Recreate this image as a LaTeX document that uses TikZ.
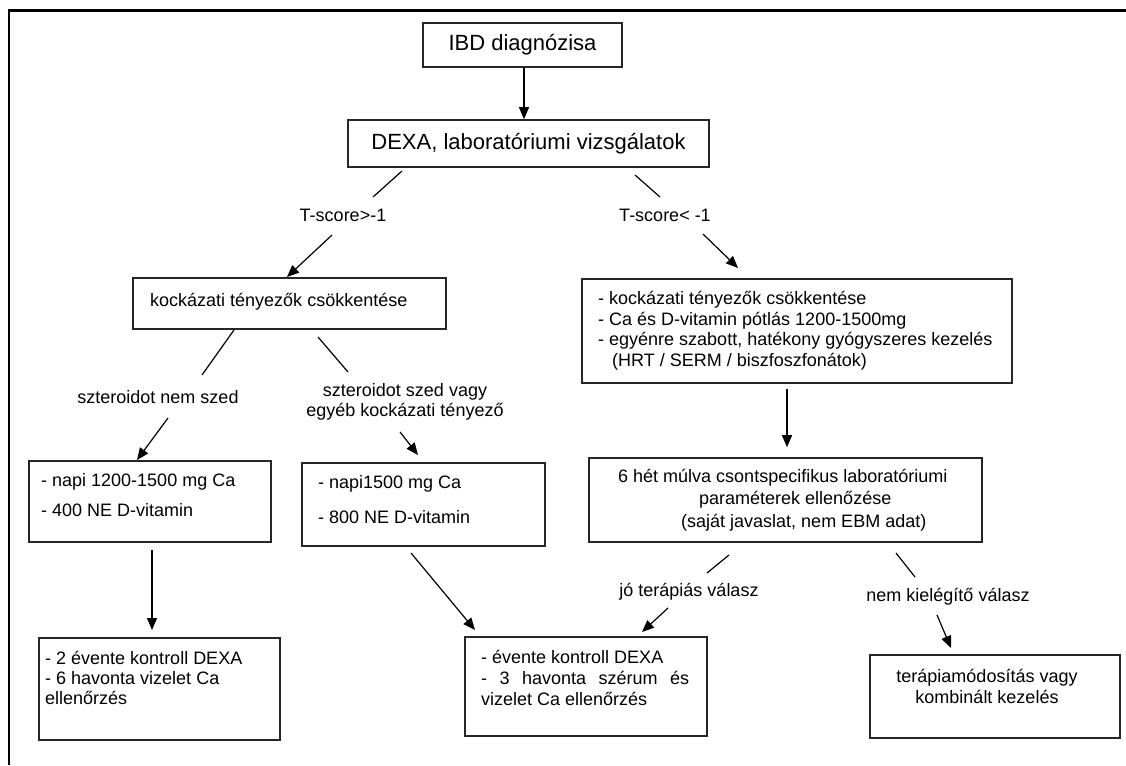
\documentclass[tikz,border=0pt]{standalone}
\usepackage{fontspec}
\setmainfont{Liberation Sans}
\usetikzlibrary{arrows.meta}
\begin{document}
\begin{tikzpicture}[x=1pt,y=-1pt,
  box/.style={draw=black!85,line width=1.6pt,inner sep=0pt},
  big/.style={font=\fontsize{22}{26}\selectfont},
  txt/.style={inner sep=0pt,font=\fontsize{18}{20.5}\selectfont,align=left},
  lbl/.style={inner sep=0pt,font=\fontsize{18}{20.5}\selectfont,align=center},
  conn/.style={line width=1.2pt},
  arr/.style={line width=1.2pt,-{Triangle[length=12pt,width=10pt]}}]
\useasboundingbox (0,0) rectangle (1126,765);
% frame
\draw[line width=3pt] (1126,10.5) -- (8.5,10.5);
\draw[line width=2pt] (8.5,9) -- (8.5,765);
% boxes
\node[box,big,minimum width=199,minimum height=44] (ibd) at (522.5,45) {IBD diagnózisa};
\node[box,big,minimum width=361,minimum height=47] (dexa) at (528.5,143.5) {DEXA, laboratóriumi vizsgálatok};
\node[box,minimum width=313,minimum height=51] (kockL) at (289.5,303.5) {};
\node[box,minimum width=430,minimum height=104] (kockR) at (797,331) {};
\node[box,minimum width=242,minimum height=81] (napiL) at (150,501.5) {};
\node[box,minimum width=243,minimum height=83] (napiM) at (423.5,504.5) {};
\node[box,minimum width=393,minimum height=84] (het) at (785.5,500) {};
\node[box,minimum width=241,minimum height=102] (evL) at (159.5,689) {};
\node[box,minimum width=242,minimum height=99] (evM) at (586,686.5) {};
\node[box,minimum width=250,minimum height=83] (ter) at (995,696.5) {};
% texts in boxes (base anchor = baseline of last line)
\node[txt,anchor=base west] (tkockL) at (150,306) {kockázati tényezők csökkentése};
\node[txt,anchor=base west] (tkockR) at (598,366) {- kockázati tényezők csökkentése\\- Ca és D-vitamin pótlás 1200-1500mg\\- egyénre szabott, hatékony gyógyszeres kezelés\\\hspace{14pt}(HRT / SERM / biszfoszfonátok)};
\node[txt,anchor=base west,font=\fontsize{18}{30}\selectfont] (tnapiL) at (41,516) {- napi 1200-1500 mg Ca\\- 400 NE D-vitamin};
\node[txt,anchor=base west,font=\fontsize{18}{35}\selectfont] (tnapiM) at (318,523) {- napi1500 mg Ca\\- 800 NE D-vitamin};
\node[txt,anchor=base west,font=\fontsize{18}{22.5}\selectfont] (thet) at (618,527) {6 hét múlva csontspecifikus laboratóriumi\\\hspace{81pt}paraméterek ellenőzése\\\hspace{63pt}(saját javaslat, nem EBM adat)};
\node[txt,anchor=base west,font=\fontsize{18}{20}\selectfont] (tevL) at (45,704) {- 2 évente kontroll DEXA\\- 6 havonta vizelet Ca\\ellenőrzés};
\node[txt,anchor=base west,font=\fontsize{18}{21}\selectfont] (tevM) at (481,705) {- évente kontroll DEXA\\\makebox[208pt][s]{- 3 havonta szérum és}\\vizelet Ca ellenőrzés};
\node[lbl,anchor=base] (tter) at (987,703) {terápiamódosítás vagy\\kombinált kezelés};
% labels
\node[lbl] (l1) at (343,215) {T-score>-1};
\node[lbl] (l2) at (665,215) {T-score< -1};
\node[lbl] (l3) at (158,397) {szteroidot nem szed};
\node[lbl] (l4) at (405,402) {szteroidot szed vagy\\egyéb kockázati tényező};
\node[lbl] (l5) at (689,592) {jó terápiás válasz};
\node[lbl] (l6) at (948,597) {nem kielégítő válasz};
% connector coordinates
\coordinate (x0) at (524,0);
\coordinate (c1a) at (402,171); \coordinate (c1b) at (373,197);
\coordinate (a1a) at (332,235); \coordinate (a1b) at (287,277);
\coordinate (c2a) at (635,175); \coordinate (c2b) at (660,197);
\coordinate (a2a) at (703,234); \coordinate (a2b) at (738,268);
\coordinate (c3a) at (234,330); \coordinate (c3b) at (202,375);
\coordinate (a3a) at (168,418); \coordinate (a3b) at (137,460);
\coordinate (c4a) at (318,337); \coordinate (c4b) at (348,372);
\coordinate (a4a) at (400,432); \coordinate (a4b) at (418,455);
\coordinate (x5) at (787,0);
\coordinate (a6a) at (152,550); \coordinate (a6b) at (152,630);
\coordinate (a7a) at (411,553); \coordinate (a7b) at (475,630);
\coordinate (c8a) at (729,555); \coordinate (c8b) at (707,573);
\coordinate (a8a) at (668,608); \coordinate (a8b) at (642,632);
\coordinate (c9a) at (896,553); \coordinate (c9b) at (915,577);
\coordinate (a9a) at (937,615); \coordinate (a9b) at (951,648);
% connectors
\draw[arr] (ibd.south -| x0) -- (dexa.north -| x0);
\draw[conn] (c1a) -- (c1b);
\draw[arr] (a1a) -- (a1b);
\draw[conn] (c2a) -- (c2b);
\draw[arr] (a2a) -- (a2b);
\draw[conn] (c3a) -- (c3b);
\draw[arr] (a3a) -- (a3b);
\draw[conn] (c4a) -- (c4b);
\draw[arr] (a4a) -- (a4b);
\draw[arr] ([yshift=-5pt]kockR.south -| x5) -- ([yshift=10pt]het.north -| x5);
\draw[arr] (a6a) -- (a6b);
\draw[arr] (a7a) -- (a7b);
\draw[conn] (c8a) -- (c8b);
\draw[arr] (a8a) -- (a8b);
\draw[conn] (c9a) -- (c9b);
\draw[arr] (a9a) -- (a9b);
\end{tikzpicture}
\end{document}
